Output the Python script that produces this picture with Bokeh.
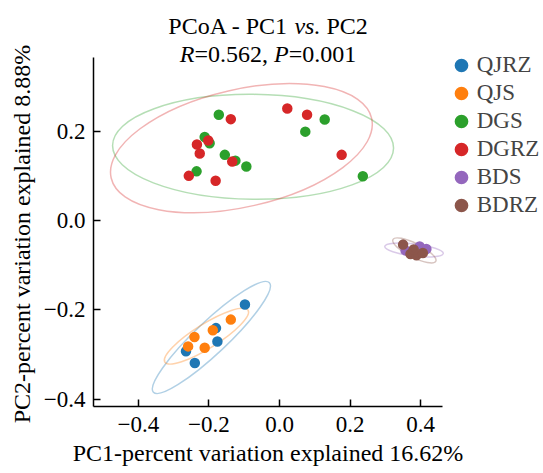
from bokeh.plotting import figure
from bokeh.models import ColumnDataSource, Label, Legend, LegendItem, FixedTicker, Title
from bokeh.embed import file_html
from bokeh.resources import INLINE

# ---------------- data ----------------
groups = ["QJRZ", "QJS", "DGS", "DGRZ", "BDS", "BDRZ"]
colors = ["#1f77b4", "#ff7f0e", "#2ca02c", "#d62728", "#9467bd", "#8c564b"]

qjrz_x = [-0.098, -0.180, -0.176, -0.265, -0.240]
qjrz_y = [-0.188, -0.241, -0.271, -0.293, -0.319]
qjs_x = [-0.138, -0.189, -0.241, -0.259, -0.212]
qjs_y = [-0.222, -0.246, -0.261, -0.282, -0.285]
dgs_x = [-0.172, -0.212, -0.198, -0.155, -0.125, -0.094, -0.235, 0.073, 0.128, 0.236]
dgs_y = [0.237, 0.187, 0.173, 0.147, 0.134, 0.121, 0.110, 0.199, 0.226, 0.099]
dgrz_x = [-0.138, 0.022, 0.078, -0.234, -0.202, -0.226, -0.134, -0.257, -0.181, 0.176]
dgrz_y = [0.227, 0.251, 0.237, 0.170, 0.179, 0.150, 0.132, 0.100, 0.089, 0.147]
bds_x = [0.357, 0.397, 0.416, 0.377]
bds_y = [-0.067, -0.058, -0.064, -0.069]
bdrz_x = [0.350, 0.371, 0.388, 0.406, 0.380]
bdrz_y = [-0.054, -0.075, -0.078, -0.073, -0.065]

# confidence ellipses (centre, axes, rotation) per group
ell_cx = [-0.193, -0.207, -0.075, -0.108, 0.381, 0.382]
ell_cy = [-0.262, -0.259, 0.165, 0.162, -0.066, -0.067]
ell_w = [0.452, 0.278, 0.796, 0.757, 0.167, 0.136]
ell_h = [0.072, 0.054, 0.235, 0.263, 0.027, 0.031]
ell_angle = [0.757, 0.558, -0.010, 0.225, -0.12, -0.47]

x_ticks = [-0.4, -0.2, 0.0, 0.2, 0.4]
x_tick_labels = ["\u22120.4", "\u22120.2", "0.0", "0.2", "0.4"]
y_ticks = [-0.4, -0.2, 0.0, 0.2]
y_tick_labels = ["\u22120.4", "\u22120.2", "0.0", "0.2"]

x_label = "PC1-percent variation explained 16.62%"
y_label = "PC2-percent variation explained 8.88%"

xs = [qjrz_x, qjs_x, dgs_x, dgrz_x, bds_x, bdrz_x]
ys = [qjrz_y, qjs_y, dgs_y, dgrz_y, bds_y, bdrz_y]

FONT = "Liberation Serif"

# axis extents (the drawn spines) and the wider frame that also holds title and legend
X_AXIS = (-0.527, 0.462)
Y_AXIS = (-0.4166, 0.365)
X_PX, Y_PX = 353.0, 446.5          # pixels per data unit
FRAME_L, FRAME_B = 93, 67          # left and bottom borders
W, H = 543, 473
x_end = X_AXIS[0] + (W - FRAME_L) / X_PX
y_end = Y_AXIS[0] + (H - FRAME_B) / Y_PX

p = figure(width=W, height=H, x_range=(X_AXIS[0], x_end), y_range=(Y_AXIS[0], y_end),
           output_backend="svg", toolbar_location=None, title=None,
           min_border_left=FRAME_L, min_border_right=0, min_border_top=0, min_border_bottom=FRAME_B)
p.xgrid.visible = False
p.ygrid.visible = False
p.outline_line_color = None
p.background_fill_color = "white"
p.border_fill_color = "white"

for ax, ticks, labels, bnd in ((p.xaxis[0], x_ticks, x_tick_labels, X_AXIS),
                               (p.yaxis[0], y_ticks, y_tick_labels, Y_AXIS)):
    ax.bounds = bnd
    ax.ticker = FixedTicker(ticks=ticks)
    ax.major_label_overrides = {t: l for t, l in zip(ticks, labels)}
    ax.major_tick_in = 7
    ax.major_tick_out = 0
    ax.minor_tick_line_color = None
    ax.axis_line_width = 1.5
    ax.major_tick_line_width = 1.5
    ax.axis_line_color = "black"
    ax.major_tick_line_color = "black"
    ax.major_label_text_font = FONT
    ax.major_label_text_font_size = "23px"
    ax.major_label_text_color = "black"
    ax.axis_label = None

p.xaxis.major_label_standoff = 10
p.yaxis.major_label_standoff = 8

# axis titles, aligned with the drawn spines rather than the whole frame
axis_len_x = (X_AXIS[1] - X_AXIS[0]) * X_PX
axis_len_y = (Y_AXIS[1] - Y_AXIS[0]) * Y_PX
XL_W = 390.6
YL_W = 378.6
p.add_layout(Title(text=x_label, align="left", offset=(axis_len_x - XL_W) / 2, vertical_align="top",
                   standoff=10, text_font=FONT, text_font_size="24px", text_font_style="normal",
                   text_color="black"), "below")
p.add_layout(Title(text=y_label, align="left", offset=(axis_len_y - YL_W) / 2 - 2, vertical_align="bottom",
                   standoff=12, text_font=FONT, text_font_size="24px", text_font_style="normal",
                   text_color="black"), "left")

# ellipses
esrc = ColumnDataSource(dict(x=ell_cx, y=ell_cy, w=ell_w, h=ell_h, a=ell_angle, c=colors))
p.ellipse(x="x", y="y", width="w", height="h", angle="a", source=esrc,
          fill_color=None, line_color="c", line_alpha=0.35, line_width=1.5)

items = []
for g, c, x, y in zip(groups, colors, xs, ys):
    r = p.scatter(x=x, y=y, size=8, marker="circle", fill_color=c, line_color=c, line_width=2.5)
    items.append(LegendItem(label=g, renderers=[r]))

legend = Legend(items=items, location=(353.7, 187), glyph_width=28, glyph_height=28,
                spacing=0, padding=0, margin=0, label_standoff=2,
                label_text_font=FONT, label_text_font_size="23px",
                border_line_color=None, background_fill_alpha=0)
p.add_layout(legend)

# title (mixed roman / italic pieces)
W_REG = {"P": 556, "C": 667, "o": 500, "A": 722, " ": 250, "-": 333, "1": 500, "2": 500,
         "=": 564, "0": 500, ".": 250, "5": 500, "6": 500, ",": 250}
W_IT = {"v": 444, "s": 389, ".": 250, "R": 611, "P": 611, " ": 250}


def width(txt, italic, size):
    tab = W_IT if italic else W_REG
    return sum(tab.get(ch, 500) for ch in txt) * size / 1000.0


TSIZE = 24
lines = [
    (381, [("PCoA - PC1", False), (" ", False), ("vs.", True), (" ", False), ("PC2", False)]),
    (353, [("R", True), ("=0.562,", False), (" ", False), ("P", True), ("=0.001", False)]),
]
for base, pieces in lines:
    total = sum(width(t, it, TSIZE) for t, it in pieces)
    x0 = axis_len_x / 2 - total / 2
    for t, it in pieces:
        if t.strip():
            p.add_layout(Label(x=x0, y=base, x_units="screen", y_units="screen", text=t,
                               text_font=FONT, text_font_size=f"{TSIZE}px",
                               text_font_style="italic" if it else "normal",
                               text_align="left", text_baseline="alphabetic", text_color="black"))
        x0 += width(t, it, TSIZE)

open("out.html", "w").write(file_html(p, INLINE))
